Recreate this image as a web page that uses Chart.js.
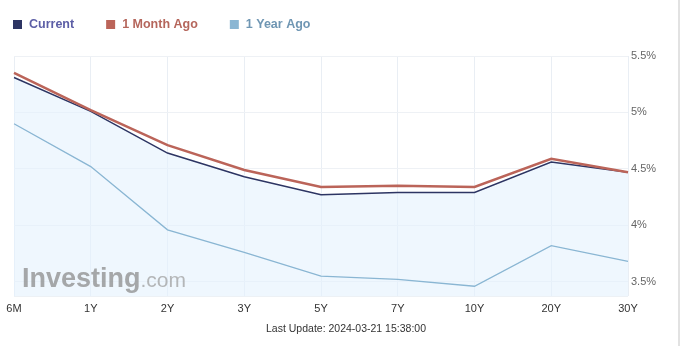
<!DOCTYPE html>
<html lang="en">
<head>
  <meta charset="UTF-8" />
  <title>Yield Curve</title>
  <script src="https://cdn.jsdelivr.net/npm/chart.js"></script>
  <style>
    html, body { margin: 0; padding: 0; background: #fff; }
    #wrap { width: 684px; height: 346px; position: relative; }
  </style>
</head>
<body>
  <div id="wrap"><canvas id="curveChart" width="684" height="346"></canvas></div>

  <script>
    const maturities = ['6M', '1Y', '2Y', '3Y', '5Y', '7Y', '10Y', '20Y', '30Y'];
    const current    = [5.31, 5.01, 4.64, 4.43, 4.27, 4.29, 4.29, 4.56, 4.47];
    const monthAgo   = [5.35, 5.02, 4.71, 4.49, 4.34, 4.35, 4.34, 4.59, 4.47];
    const yearAgo    = [4.90, 4.52, 3.96, 3.76, 3.55, 3.52, 3.46, 3.82, 3.68];
    const seriesNames = ['Current', '1 Month Ago', '1 Year Ago'];
    const legendText  = ['#5c5ea6', '#b5665c', '#6f96b3'];
    const updateText  = 'Last Update: 2024-03-21 15:38:00';

    const sans = "'Liberation Sans', Arial, sans-serif";

    // legend, watermark and right border drawn on the canvas
    const extras = {
      id: 'extras',
      afterDatasetsDraw(chart) {
        const ctx = chart.ctx;
        ctx.save();
        ctx.textBaseline = 'alphabetic';
        ctx.fillStyle = 'rgba(140,140,140,0.75)';
        ctx.font = "bold 27px " + sans;
        ctx.fillText('Investing', 22, 287);
        const w = ctx.measureText('Investing').width;
        ctx.fillStyle = 'rgba(160,160,160,0.75)';
        ctx.font = "21px " + sans;
        ctx.fillText('.com', 22 + w, 287);
        ctx.restore();
      },
      afterDraw(chart) {
        const ctx = chart.ctx;
        ctx.save();
        ctx.font = "bold 12.5px " + sans;
        ctx.textBaseline = 'middle';
        let x = 13;
        chart.data.datasets.forEach((ds, i) => {
          ctx.fillStyle = ds.borderColor;
          ctx.fillRect(x, 20, 9, 9);
          ctx.fillStyle = legendText[i];
          ctx.fillText(ds.label, x + 16, 25);
          x += 16 + ctx.measureText(ds.label).width + 32;
        });
        ctx.fillStyle = '#e2e2e2';
        ctx.fillRect(678, 0, 2, 346);
        ctx.restore();
      }
    };

    const ctx = document.getElementById('curveChart').getContext('2d');
    new Chart(ctx, {
      type: 'line',
      data: {
        labels: maturities,
        datasets: [
          { label: seriesNames[0], data: current, borderColor: '#2d3563', borderWidth: 1.5,
            fill: 'start', backgroundColor: 'rgba(228,241,253,0.6)', order: 2 },
          { label: seriesNames[1], data: monthAgo, borderColor: '#bb6459', borderWidth: 2.5,
            fill: false, order: 0 },
          { label: seriesNames[2], data: yearAgo, borderColor: '#8ab6d3', borderWidth: 1.3,
            fill: false, order: 1 }
        ]
      },
      options: {
        responsive: false,
        animation: false,
        devicePixelRatio: 1,
        layout: { padding: { top: 56, left: 14, right: 6, bottom: 0 } },
        elements: { point: { radius: 0 }, line: { tension: 0 } },
        plugins: {
          legend: { display: false },
          tooltip: { enabled: false },
          title: {
            display: true,
            position: 'bottom',
            text: updateText,
            color: '#333',
            font: { family: sans, size: 10.5, weight: 'normal' },
            padding: { top: 4, bottom: 11 }
          }
        },
        scales: {
          x: {
            offset: false,
            grid: { color: '#e9eef4', drawTicks: false },
            border: { display: false },
            ticks: { color: '#333', font: { family: sans, size: 11 }, padding: 6, maxRotation: 0, autoSkip: false },
            afterFit: s => { s.height = 22; }
          },
          y: {
            position: 'right',
            min: 3.37,
            max: 5.5,
            grid: { color: '#eef1f5', drawTicks: false },
            border: { display: false },
            ticks: {
              stepSize: 0.5,
              color: '#666',
              padding: 3,
              font: { family: sans, size: 11 },
              callback: v => (Math.abs(v * 2 - Math.round(v * 2)) < 1e-6) ? v + '%' : ''
            },
            afterFit: s => { s.width = 50; }
          }
        }
      },
      plugins: [extras]
    });
  </script>
</body>
</html>
